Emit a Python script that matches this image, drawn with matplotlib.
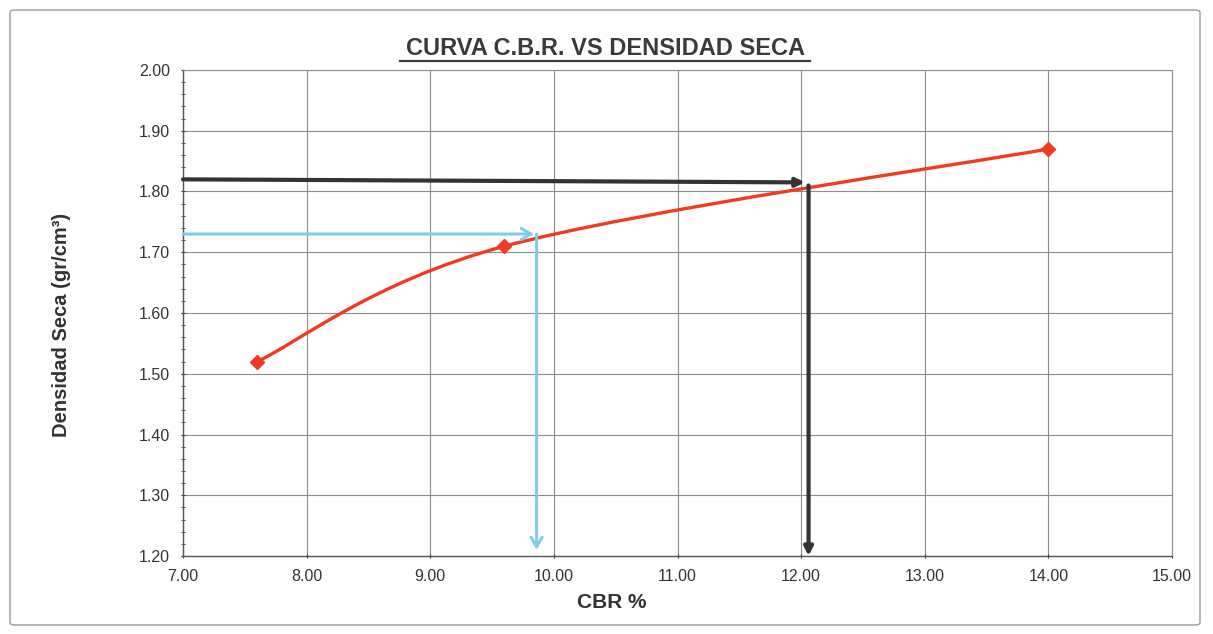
import numpy as np
import matplotlib
matplotlib.use("Agg")
import matplotlib.pyplot as plt
from matplotlib.path import Path
from matplotlib.patches import PathPatch, FancyBboxPatch
from matplotlib.ticker import MultipleLocator, FormatStrFormatter

plt.rcParams['font.family'] = ['Liberation Sans', 'DejaVu Sans']

# Ensayo CBR: porcentaje CBR vs densidad seca
cbr = [7.60, 9.60, 14.00]
densidad = [1.52, 1.71, 1.87]

# Lecturas de diseño (flechas)
dens_max = 1.82      # densidad de referencia (negro)
cbr_max = 12.06
dens_95 = 1.73       # densidad de referencia (celeste)
cbr_95 = 9.86

x_ticks = [7.0, 8.0, 9.0, 10.0, 11.0, 12.0, 13.0, 14.0, 15.0]
y_ticks = [1.20, 1.30, 1.40, 1.50, 1.60, 1.70, 1.80, 1.90, 2.00]

fig = plt.figure(figsize=(12.13, 6.34), dpi=100)
ax = fig.add_axes([0.1509, 0.1230, 0.8153, 0.7666])

# Outer frame of the chart area
frame = FancyBboxPatch((10 / 1213, 9 / 634), 1190 / 1213, 615 / 634,
                       boxstyle="round,pad=0,rounding_size=0.004",
                       transform=fig.transFigure, fill=False,
                       edgecolor='#9a9a9a', linewidth=1.0)
fig.patches.append(frame)

ax.set_xlim(x_ticks[0], x_ticks[-1])
ax.set_ylim(y_ticks[0], y_ticks[-1])
ax.set_xticks(x_ticks)
ax.set_yticks(y_ticks)
ax.xaxis.set_major_formatter(FormatStrFormatter('%.2f'))
ax.yaxis.set_major_formatter(FormatStrFormatter('%.2f'))
ax.yaxis.set_minor_locator(MultipleLocator(0.02))
ax.grid(True, which='major', color='#8c8c8c', linewidth=0.8)
ax.set_axisbelow(True)
ax.tick_params(axis='both', which='major', labelsize=11.5, colors='#333333',
               length=3, width=0.8, direction='inout')
ax.tick_params(axis='x', which='major', pad=8)
ax.tick_params(axis='y', which='major', pad=8)
ax.tick_params(axis='y', which='minor', length=3, width=0.7,
               direction='inout', color='#555555')
for side in ['top', 'right']:
    ax.spines[side].set_color('#8c8c8c')
    ax.spines[side].set_linewidth(0.8)
for side in ['left', 'bottom']:
    ax.spines[side].set_color('#555555')
    ax.spines[side].set_linewidth(1.0)

# Smoothed curve through the test points (Catmull-Rom -> cubic Bezier)
pts = np.column_stack([cbr, densidad])
ext = np.vstack([pts[0], pts, pts[-1]])
verts = [tuple(pts[0])]
codes = [Path.MOVETO]
for i in range(1, len(ext) - 2):
    p0, p1, p2, p3 = ext[i - 1], ext[i], ext[i + 1], ext[i + 2]
    c1 = p1 + (p2 - p0) / 6.0
    c2 = p2 - (p3 - p1) / 6.0
    verts += [tuple(c1), tuple(c2), tuple(p2)]
    codes += [Path.CURVE4] * 3
curve = PathPatch(Path(verts, codes), fill=False, edgecolor='#f03a22',
                  linewidth=2.4, zorder=3)
ax.add_patch(curve)
ax.plot(cbr, densidad, linestyle='none', marker='D', markersize=7.5,
        color='#f03a22', zorder=4)

# Black reading arrows
ax.annotate('', xy=(cbr_max - 0.03, dens_max - 0.005), xytext=(x_ticks[0], dens_max),
            arrowprops=dict(arrowstyle='-|>,head_length=0.5,head_width=0.25',
                            color='#333333', lw=3.0, shrinkA=0, shrinkB=0),
            zorder=5)
ax.annotate('', xy=(cbr_max, y_ticks[0]), xytext=(cbr_max, dens_max - 0.01),
            arrowprops=dict(arrowstyle='-|>,head_length=0.5,head_width=0.25',
                            color='#333333', lw=3.0, shrinkA=0, shrinkB=0),
            zorder=5)

# Light-blue reading arrows
ax.annotate('', xy=(cbr_95 - 0.02, dens_95), xytext=(x_ticks[0], dens_95),
            arrowprops=dict(arrowstyle='->,head_length=0.7,head_width=0.4',
                            color='#7ccfe6', lw=2.2, shrinkA=0, shrinkB=0),
            zorder=5)
ax.annotate('', xy=(cbr_95, y_ticks[0] + 0.01), xytext=(cbr_95, dens_95),
            arrowprops=dict(arrowstyle='->,head_length=0.7,head_width=0.4',
                            color='#7ccfe6', lw=2.2, shrinkA=0, shrinkB=0),
            zorder=5)

ax.set_xlabel('CBR %', fontsize=15, fontweight='bold', color='#333333')
ax.xaxis.set_label_coords(0.433, -0.076)
ax.set_ylabel('Densidad Seca (gr/cm³)', fontsize=14.5, fontweight='bold',
              color='#333333')
ax.yaxis.set_label_coords(-0.113, 0.475)

fig.text(0.499, 0.924, 'CURVA C.B.R. VS DENSIDAD SECA', ha='center', va='center',
         fontsize=17, fontweight='bold', color='#3a3a3a')
# underline of the title
fig.add_artist(plt.Line2D([400 / 1213, 810 / 1213], [1 - 61 / 634, 1 - 61 / 634],
                          color='#3a3a3a', linewidth=1.6))

fig.savefig('out.png', dpi=100)
